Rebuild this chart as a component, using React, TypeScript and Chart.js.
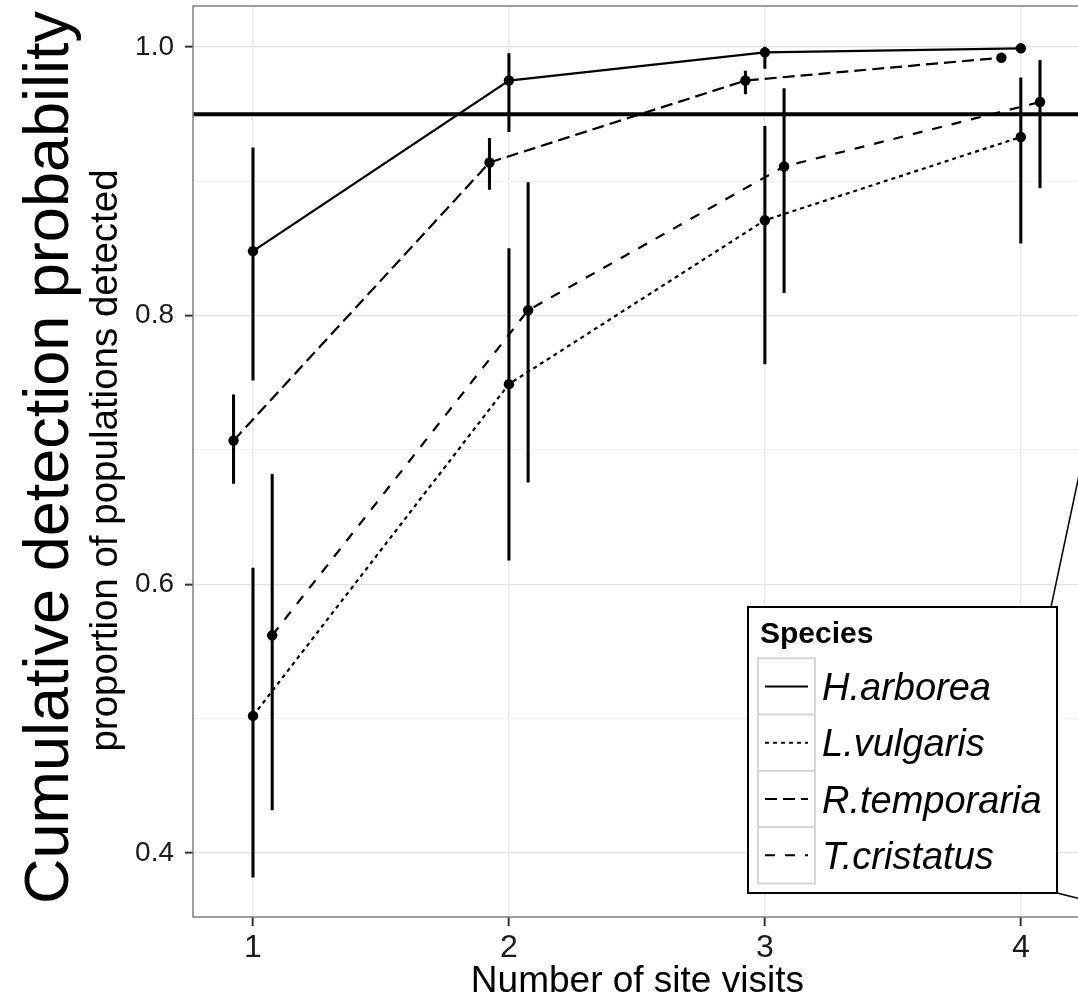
import React, { useEffect, useRef } from "react";
import { Chart, registerables } from "chart.js";

Chart.register(...registerables);

// ---------------- data ----------------
const visits = [1, 2, 3, 4];
const species = ["H.arborea", "L.vulgaris", "R.temporaria", "T.cristatus"];

const hArboreaEst = [0.848, 0.975, 0.996, 0.999];
const hArboreaLo = [0.752, 0.937, 0.984, 0.998];
const hArboreaHi = [0.925, 0.995, 1.0, 1.0];

const lVulgarisEst = [0.502, 0.749, 0.871, 0.933];
const lVulgarisLo = [0.382, 0.618, 0.764, 0.854];
const lVulgarisHi = [0.612, 0.85, 0.941, 0.977];

const rTemporariaEst = [0.707, 0.914, 0.975, 0.992];
const rTemporariaLo = [0.675, 0.894, 0.965, 0.991];
const rTemporariaHi = [0.741, 0.932, 0.982, 0.993];

const tCristatusEst = [0.562, 0.804, 0.911, 0.959];
const tCristatusLo = [0.432, 0.676, 0.817, 0.895];
const tCristatusHi = [0.682, 0.899, 0.969, 0.99];

// position_dodge offsets (x units) per species
const speciesDodge = [0, 0, -0.076, 0.075];

const thresholdValue = 0.95;
const xTickValues = [1, 2, 3, 4];
const yMajorValues = [0.4, 0.6, 0.8, 1.0];
const yMinorValues = [0.5, 0.7, 0.9];
const xRange = [0.7656, 4.2383];
const yRange = [0.3523, 1.0305];

const xTitle = "Number of site visits";
const yTitle = "Cumulative detection probability";
const ySubtitle = "proportion of populations detected";
const legendTitle = "Species";

// ---------------- styles ----------------
const FONT = '"Liberation Sans", Arial, Helvetica, sans-serif';
const dashes = [[], [4, 4], [12, 6], [10, 10]];
const estimates = [hArboreaEst, lVulgarisEst, rTemporariaEst, tCristatusEst];
const lows = [hArboreaLo, lVulgarisLo, rTemporariaLo, tCristatusLo];
const highs = [hArboreaHi, lVulgarisHi, rTemporariaHi, tCristatusHi];

// canvas is a little wider than the window: the panel runs off the right edge
const CANVAS_W = 1087;
const CANVAS_H = 1001;

const LEGEND = {
  left: 748,
  top: 607,
  width: 309,
  height: 286,
  titleX: 760,
  titleBaseline: 643,
  cellLeft: 758,
  cellTop: 658.3,
  cellW: 57,
  cellH: 56.3,
  keyX0: 765,
  keyX1: 808,
  labelX: 822,
  labelDy: 13.5,
};

const isMajorY = (v: number | undefined) =>
  v !== undefined && yMajorValues.some((m) => Math.abs(m - v) < 1e-9);

const decorPlugin = {
  id: "decor",
  afterDraw(chart: any) {
    const { ctx, chartArea: ca } = chart;
    ctx.save();
    // panel border
    ctx.strokeStyle = "#7f7f7f";
    ctx.lineWidth = 1.5;
    ctx.setLineDash([]);
    ctx.strokeRect(ca.left, ca.top, ca.right - ca.left, ca.bottom - ca.top);

    // y titles (rotated)
    const cy = (ca.top + ca.bottom) / 2;
    ctx.fillStyle = "#000";
    ctx.textAlign = "center";
    ctx.textBaseline = "alphabetic";
    ctx.save();
    ctx.translate(ca.left - 125, cy - 4);
    ctx.rotate(-Math.PI / 2);
    ctx.font = `63px ${FONT}`;
    ctx.fillText(yTitle, 0, 0);
    ctx.restore();
    ctx.save();
    ctx.translate(ca.left - 76, cy - 1);
    ctx.rotate(-Math.PI / 2);
    ctx.font = `38.5px ${FONT}`;
    ctx.fillText(ySubtitle, 0, 0);
    ctx.restore();

    // legend
    const lg = LEGEND;
    ctx.fillStyle = "#fff";
    ctx.fillRect(lg.left, lg.top, lg.width, lg.height);
    ctx.strokeStyle = "#000";
    ctx.lineWidth = 2;
    ctx.strokeRect(lg.left, lg.top, lg.width, lg.height);
    ctx.fillStyle = "#000";
    ctx.textAlign = "left";
    ctx.font = `bold 30px ${FONT}`;
    ctx.fillText(legendTitle, lg.titleX, lg.titleBaseline);
    chart.data.datasets.slice(0, species.length).forEach((ds: any, i: number) => {
      const top = lg.cellTop + i * lg.cellH;
      ctx.fillStyle = "#fff";
      ctx.fillRect(lg.cellLeft, top, lg.cellW, lg.cellH);
      ctx.strokeStyle = "#d6d6d6";
      ctx.lineWidth = 2;
      ctx.setLineDash([]);
      ctx.strokeRect(lg.cellLeft, top, lg.cellW, lg.cellH);
      const my = top + lg.cellH / 2;
      ctx.strokeStyle = "#000";
      ctx.lineWidth = 2;
      ctx.setLineDash(ds.borderDash || []);
      ctx.beginPath();
      ctx.moveTo(lg.keyX0, my);
      ctx.lineTo(lg.keyX1, my);
      ctx.stroke();
      ctx.setLineDash([]);
      ctx.fillStyle = "#000";
      ctx.font = `italic 38px ${FONT}`;
      ctx.fillText(ds.label, lg.labelX, my + lg.labelDy);
    });

    // callout lines toward an inset outside the frame
    ctx.strokeStyle = "#000";
    ctx.lineWidth = 1.5;
    ctx.beginPath();
    ctx.moveTo(1085, 447);
    ctx.lineTo(1051, 607);
    ctx.moveTo(1057, 893);
    ctx.lineTo(1085, 900);
    ctx.stroke();
    ctx.restore();
  },
};

export default function App() {
  const ref = useRef<HTMLCanvasElement | null>(null);

  useEffect(() => {
    if (!ref.current) return;
    const lineSets = species.map((name, s) => ({
      type: "line" as const,
      label: name,
      data: visits.map((v, i) => ({ x: v + speciesDodge[s], y: estimates[s][i] })),
      borderColor: "#000",
      backgroundColor: "#000",
      borderWidth: 2.2,
      borderDash: dashes[s],
      pointRadius: 5.2,
      pointHoverRadius: 5.2,
      pointBorderWidth: 0,
      pointBackgroundColor: "#000",
      tension: 0,
      fill: false,
    }));
    const barSets = species.map((name, s) => ({
      type: "bar" as const,
      label: name + " interval",
      data: visits.map((v, i) => ({ x: v + speciesDodge[s], y: [lows[s][i], highs[s][i]] })),
      backgroundColor: "#000",
      borderWidth: 0,
      grouped: false,
      barThickness: 2.4,
      maxBarThickness: 2.4,
    }));
    const hline = {
      type: "line" as const,
      label: "threshold",
      data: [
        { x: xRange[0], y: thresholdValue },
        { x: xRange[1], y: thresholdValue },
      ],
      borderColor: "#000",
      borderWidth: 4,
      pointRadius: 0,
      pointHoverRadius: 0,
      fill: false,
    };

    const chart = new Chart(ref.current, {
      type: "line",
      data: { datasets: [...lineSets, ...barSets, hline] as any },
      options: {
        animation: false,
        responsive: false,
        devicePixelRatio: 1,
        events: [],
        layout: { padding: { top: 6, left: 0, right: 0, bottom: 0 } },
        plugins: {
          legend: { display: false },
          tooltip: { enabled: false },
          title: { display: false },
        },
        scales: {
          x: {
            type: "linear",
            min: xRange[0],
            max: xRange[1],
            offset: false,
            afterBuildTicks: (sc: any) => {
              sc.ticks = xTickValues.map((v) => ({ value: v }));
            },
            afterFit: (sc: any) => {
              sc.height = 84;
              sc.paddingLeft = 0;
              sc.paddingRight = 0;
            },
            border: { display: false },
            grid: {
              offset: false,
              color: "#e6e6e6",
              lineWidth: 1.3,
              tickColor: "#333",
              tickWidth: 2,
              tickLength: 9,
            },
            ticks: {
              autoSkip: false,
              maxRotation: 0,
              padding: 3,
              color: "#1a1a1a",
              font: { family: FONT, size: 32 },
              callback: (v: any) => String(v),
            },
            title: {
              display: true,
              text: xTitle,
              color: "#000",
              font: { family: FONT, size: 37, lineHeight: 1 },
              padding: { top: 0, bottom: 1 },
            },
          },
          y: {
            type: "linear",
            min: yRange[0],
            max: yRange[1],
            afterBuildTicks: (sc: any) => {
              sc.ticks = [...yMajorValues, ...yMinorValues]
                .sort((a, b) => a - b)
                .map((v) => ({ value: v }));
            },
            afterFit: (sc: any) => {
              sc.width = 193;
              sc.paddingTop = 0;
              sc.paddingBottom = 0;
            },
            border: { display: false },
            grid: {
              color: (ctx: any) => (isMajorY(ctx.tick?.value) ? "#e4e4e4" : "#f3f3f3"),
              lineWidth: 1.3,
              tickColor: (ctx: any) => (isMajorY(ctx.tick?.value) ? "#333" : "rgba(0,0,0,0)"),
              tickWidth: 2,
              tickLength: 8,
            },
            ticks: {
              autoSkip: false,
              padding: 11,
              color: "#1a1a1a",
              font: { family: FONT, size: 28 },
              callback: (v: any) => (isMajorY(Number(v)) ? Number(v).toFixed(1) : ""),
            },
          },
        },
      },
      plugins: [decorPlugin],
    });
    return () => chart.destroy();
  }, []);

  return (
    <div
      style={{
        position: "absolute",
        left: 0,
        top: 0,
        width: 1078,
        height: 1001,
        overflow: "hidden",
        background: "#fff",
      }}
    >
      <div style={{ width: CANVAS_W, height: CANVAS_H }}>
        <canvas
          ref={ref}
          width={CANVAS_W}
          height={CANVAS_H}
          style={{ display: "block", width: CANVAS_W, height: CANVAS_H }}
        />
      </div>
    </div>
  );
}
